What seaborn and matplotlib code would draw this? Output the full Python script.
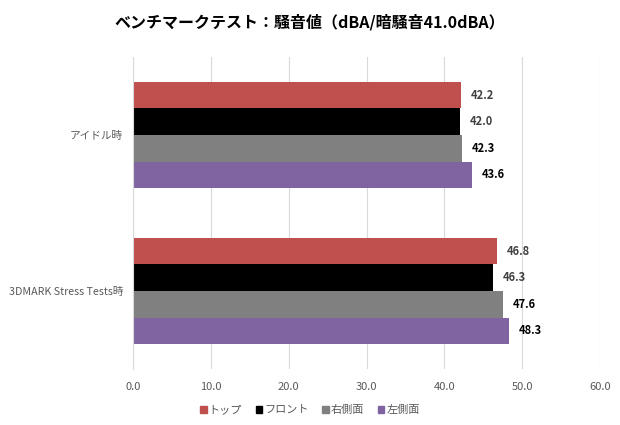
import matplotlib
matplotlib.use("Agg")
import matplotlib.pyplot as plt
import seaborn as sns
import pandas as pd

categories = ["アイドル時", "3DMARK Stress Tests時"]
series_names = ["トップ", "フロント", "右側面", "左側面"]
top = [42.2, 46.8]
front = [42.0, 46.3]
right_side = [42.3, 47.6]
left_side = [43.6, 48.3]
x_ticks = [0, 10, 20, 30, 40, 50, 60]

colors = ["#C0504D", "#000000", "#808080", "#8064A2"]
label_colors = ["#404040", "#404040", "#000000", "#000000"]

sns.set_style("white")
plt.rcParams['font.family'] = ['Noto Sans CJK JP', 'DejaVu Sans']

rows = []
for name, vals in zip(series_names, [top, front, right_side, left_side]):
    for cat, v in zip(categories, vals):
        rows.append({"cat": cat, "val": v, "series": name})
df = pd.DataFrame(rows)

fig = plt.figure(figsize=(6.2, 4.25), dpi=100)
ax = fig.add_axes([133 / 620, 1 - 369 / 425, 467 / 620, 312 / 425])

sns.barplot(data=df, x="val", y="cat", hue="series", order=categories,
            hue_order=series_names, palette=colors, orient="h",
            width=0.68, saturation=1, ax=ax, legend=False)

for cont, lc in zip(ax.containers, label_colors):
    for p in cont:
        p.set_edgecolor("none")
    ax.bar_label(cont, fmt="%.1f", padding=7, fontsize=8, fontweight="bold",
                 color=lc)

ax.set_xlim(0, 60)
ax.set_xticks(x_ticks)
ax.set_xticklabels([f"{t:.1f}" for t in x_ticks])
ax.set_xlabel("")
ax.set_ylabel("")
ax.grid(axis="x", color="#D9D9D9", linewidth=0.8)
ax.set_axisbelow(True)
for s in ["top", "right", "bottom"]:
    ax.spines[s].set_visible(False)
ax.spines["left"].set_color("#D9D9D9")
ax.tick_params(axis="both", length=0, labelsize=8, colors="#595959")
ax.tick_params(axis="y", labelsize=7.7, pad=7)
ax.tick_params(axis="x", pad=9)

handles = [plt.Rectangle((0, 0), 1, 1, color=c) for c in colors]
fig.legend(handles, series_names, loc="center", bbox_to_anchor=(0.5, 15 / 425),
           ncol=4, frameon=False, fontsize=8, handlelength=0.6, handleheight=0.6,
           handletextpad=0.2, columnspacing=1.2, labelcolor="#595959")

fig.text(0.5, 1 - 22 / 425, "ベンチマークテスト：騒音値（dBA/暗騒音41.0dBA）",
         ha="center", va="center", fontsize=11.5, fontweight="bold",
         color="#000000")

fig.savefig("out.png", dpi=100)
